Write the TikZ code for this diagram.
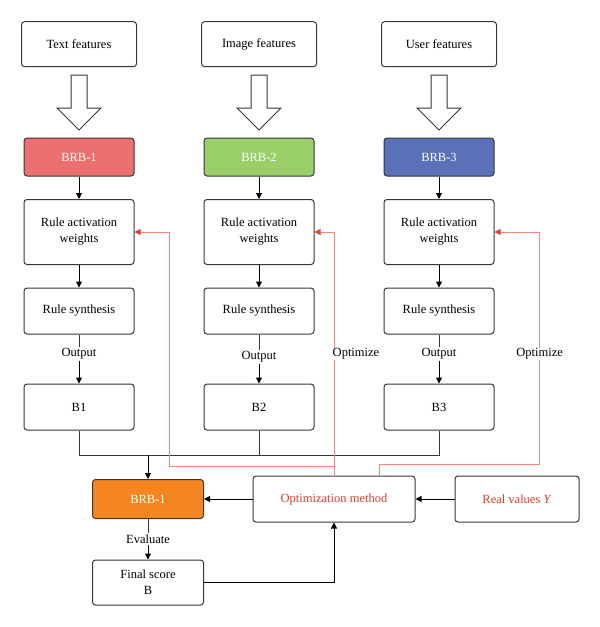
\documentclass[tikz,border=0pt]{standalone}
\usepackage{fontspec}
\setmainfont{Liberation Serif}
\usetikzlibrary{arrows.meta,calc}
\definecolor{edge}{RGB}{55,55,55}
\definecolor{brbred}{RGB}{236,112,112}
\definecolor{brbgreen}{RGB}{153,206,104}
\definecolor{brbblue}{RGB}{90,112,184}
\definecolor{brborange}{RGB}{245,133,32}
\definecolor{redline}{RGB}{244,137,122}
\definecolor{redtip}{RGB}{232,64,56}
\definecolor{redtext}{RGB}{224,64,44}
\begin{document}
\begin{tikzpicture}[x=1pt,y=-1pt,
  font=\fontsize{12.5}{16}\selectfont,
  box/.style={draw=edge, line width=1pt, rounded corners=3pt, fill=white, align=center, inner sep=2pt, minimum width=110pt},
  lbl/.style={inner sep=1pt, fill=white},
  arr/.style={draw=black, line width=1pt, -{Triangle[length=6pt,width=6pt]}},
  plain/.style={draw=edge, line width=1pt},
  redl/.style={draw=redline, line width=1pt},
  redarr/.style={draw=redline, line width=1pt, -{Triangle[length=6pt,width=6pt,color=redtip]}},
  hollow/.style={draw=edge, line width=1pt, fill=white}]
\useasboundingbox (0,0) rectangle (600,627);

% top feature boxes
\node[box, minimum width=115pt, minimum height=45pt] (t1) at (79,44.2) {Text features};
\node[box, minimum width=115pt, minimum height=45pt] (t2) at (259,44.2) {Image features};
\node[box, minimum width=115pt, minimum height=45pt] (t3) at (439,44.2) {User features};

% hollow arrows
\foreach \cx in {79,259,439}{
  \draw[hollow] ({\cx-8},75) -- ({\cx+8},75) -- ({\cx+8},108) -- ({\cx+22},108) -- (\cx,130) -- ({\cx-22},108) -- ({\cx-8},108) -- cycle;
}

% BRB boxes
\node[box, fill=brbred, text=white, minimum height=38pt] (b1) at (79,157) {BRB-1};
\node[box, fill=brbgreen, text=white, minimum height=38pt] (b2) at (259,157) {BRB-2};
\node[box, fill=brbblue, text=white, minimum height=38pt] (b3) at (439,157) {BRB-3};

% rule activation weights
\node[box, minimum height=65pt] (r1) at (79,232) {Rule activation\\weights};
\node[box, minimum height=65pt] (r2) at (259,232) {Rule activation\\weights};
\node[box, minimum height=65pt] (r3) at (439,232) {Rule activation\\weights};

% rule synthesis
\node[box, minimum height=46pt] (s1) at (79,311) {Rule synthesis};
\node[box, minimum height=46pt] (s2) at (259,311) {Rule synthesis};
\node[box, minimum height=46pt] (s3) at (439,311) {Rule synthesis};

% output labels
\node[lbl] (o1) at (79,354) {Output};
\node[lbl] (o2) at (259,357) {Output};
\node[lbl] (o3) at (439,354) {Output};

% B boxes
\node[box, minimum height=46pt] (B1) at (79,407) {B1};
\node[box, minimum height=46pt] (B2) at (259,407) {B2};
\node[box, minimum height=46pt] (B3) at (439,407) {B3};

% bottom row
\node[box, fill=brborange, text=white, minimum width=111pt, minimum height=39pt] (ob) at (148,499) {BRB-1};
\node[box, minimum width=162pt, minimum height=46pt, text=redtext] (opt) at (334,499) {Optimization method};
\node[box, minimum width=124pt, minimum height=46pt, text=redtext] (real) at (517,499) {Real values \textit{Y}};
\node[lbl] (ev) at (148,539) {Evaluate};
\node[box, minimum width=111pt, minimum height=45pt] (fin) at (148,582.5) {Final score\\B};

% column connectors
\foreach \i in {1,2,3}{
  \draw[arr] (b\i) -- (r\i);
  \draw[arr] (r\i) -- (s\i);
  \draw[plain] (s\i) -- (o\i);
  \draw[arr] (o\i) -- (B\i);
}

% merge
\coordinate (m) at (148,455);
\draw[plain] (B1.south) -- (B1.south |- m) -- (B3.south |- m) -- (B3.south);
\draw[plain] (B2.south) -- (B2.south |- m);
\draw[arr] (m) -- (ob.north);

% bottom connectors
\draw[arr] (opt) -- (ob);
\draw[arr] (real) -- (opt);
\draw[plain] (ob) -- (ev);
\draw[arr] (ev) -- (fin);
\draw[arr] (fin.east) -| (opt.south);

% red optimize feedback
\coordinate (ml) at (334,466.5);
\coordinate (lc) at (169.6,466.5);
\coordinate (ro) at (379,476);
\coordinate (rc) at (539.6,464);
\draw[redarr] (opt.north) -- (opt.north |- r2.east) -- (r2.east);
\draw[redarr] (ml) -- (lc) |- (r1.east);
\draw[redarr] (ro) |- (rc) |- (r3.east);
\node[lbl] (op2) at (356,354) {Optimize};
\node[lbl] (op3) at (539.6,354) {Optimize};
\end{tikzpicture}
\end{document}
